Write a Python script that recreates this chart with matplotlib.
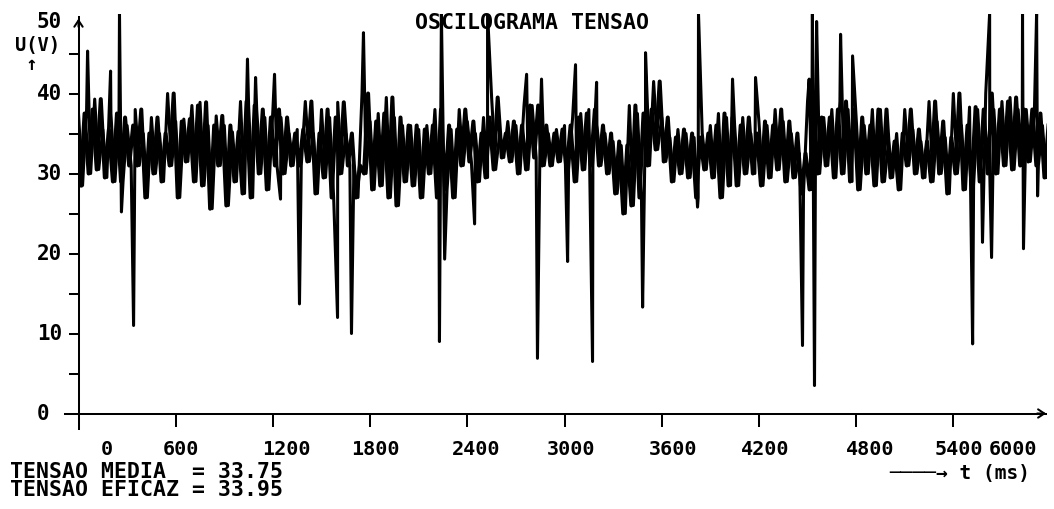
import numpy as np
import matplotlib
matplotlib.use("Agg")
import matplotlib.pyplot as plt
import matplotlib.transforms as mtransforms

# envelope of the trace, read every 50 ms (upper and lower value of the band, V)
t_step = 50
u_high = [
    37.5, 38, 39.3, 35.5, 37.5, 37, 36, 38, 35, 37,
    35, 40, 36.5, 36.8, 38.5, 38.9, 36, 37.2, 36, 35.2,
    39, 38.5, 38, 37, 38, 37, 35, 35.5, 39, 35,
    38, 37, 38.9, 35, 31, 40, 36.5, 37.5, 39.5, 37,
    36, 36, 35.5, 36, 38, 36, 35.5, 38, 36.5, 35,
    37, 39.5, 35, 36.5, 36, 38.5, 38.5, 36, 35, 35.5,
    36, 37, 37.5, 38, 36, 35, 34, 33.5, 38.5, 37.5,
    38, 41.5, 37, 34.5, 35.5, 35, 34.5, 35, 36, 37.5,
    37, 36, 37, 35, 36.5, 36, 38, 36.5, 35, 32.5,
    39, 37, 37, 38, 39, 38, 37, 36, 38, 38,
    34, 35, 38, 35.5, 34, 39, 36.5, 34.5, 40, 36,
    38.3, 38, 40, 38, 39, 39.5, 38, 38, 37.5, 36,
]
u_low = [
    28.5, 30, 30.5, 29.5, 29, 29, 31, 31, 27, 30,
    29, 31, 27, 31.5, 29, 28.5, 25.6, 31, 26, 29,
    27.5, 27, 30, 28, 31, 30, 31, 31, 31.5, 27.5,
    29.5, 27, 30, 31, 27, 30, 28, 28.5, 27, 26,
    29, 28.5, 27, 30, 27, 28, 27, 31, 31.5, 29,
    29.5, 30.5, 32, 31.5, 30, 30.5, 32, 31, 31, 31.5,
    30.5, 29, 30.5, 31, 31, 30, 27.5, 25, 26, 27,
    31, 33, 31.5, 29, 30, 29.5, 27, 30.5, 29.5, 27,
    28.5, 28.5, 30, 30, 28.5, 29.5, 30.5, 29, 29.5, 27.5,
    28, 30, 31, 29.5, 30, 29, 28, 30, 28.5, 29,
    29.5, 28, 31, 30, 29.5, 29, 30, 27.5, 30, 28,
    28.5, 29, 30, 30, 31, 30.5, 31, 31.5, 31, 29.5,
]

# single spikes (time in ms, voltage in V)
spike_t = [56, 198, 253, 265, 340, 1043, 1093, 1210, 1247, 1364,
           1599, 1685, 1759, 2228, 2240, 2260, 2445, 2525, 2766, 2833,
           2858, 3019, 3068, 3173, 3198, 3482, 3500, 3821, 3827, 4037,
           4179, 4469, 4510, 4530, 4543, 4556, 4704, 4778, 5519, 5580,
           5624, 5636, 5827, 5833, 5914, 5920]
spike_u = [45.3, 42.8, 50, 25.2, 11, 44.3, 42, 42.4, 26.8, 13.7,
           12, 10, 47.6, 9, 50, 19.3, 23.7, 50, 42.4, 6.9,
           41.8, 19, 43.6, 6.5, 41.4, 13.3, 45.1, 25.8, 50, 41.8,
           42, 8.5, 41.8, 50, 3.5, 49, 47.4, 44.7, 8.7, 21.4,
           50, 19.5, 50, 20.6, 50, 27.2]

y_ticks = [0, 10, 20, 30, 40, 50]
x_ticks = [600, 1200, 1800, 2400, 3000, 3600, 4200, 4800, 5400]
x_labels = ["0", "600", "1200", "1800", "2400", "3000",
            "3600", "4200", "4800", "5400", "6000"]
title = "OSCILOGRAMA TENSAO"
u_media = 33.75
u_eficaz = 33.95

# label positions of the original screen (ms)
x_label_pos = [176, 633, 1281, 1830, 2454, 3040, 3670, 4238, 4886, 5435, 5769]

# two interleaved zigzags through the band, spikes added to the first one
n = len(u_high)
pts_a = []
pts_b = []
for i in range(n):
    pts_a.append((i * t_step, u_high[i]))
    pts_a.append((i * t_step + t_step / 2, u_low[i]))
    pts_b.append((i * t_step + t_step / 4, u_low[i]))
    pts_b.append((i * t_step + 3 * t_step / 4, u_high[i]))
pts_a += list(zip(spike_t, spike_u))
pts_a.sort()
ta = np.array([p[0] for p in pts_a])
ua = np.array([p[1] for p in pts_a])
tb = np.array([p[0] for p in pts_b])
ub = np.array([p[1] for p in pts_b])

W, H = 1054, 510
fig = plt.figure(figsize=(W / 100, H / 100), dpi=100)
ax = fig.add_axes([78.5 / W, 1 - 414.5 / H, 968.8 / W, 400 / H])
ax.set_xlim(0, 5980)
ax.set_ylim(0, 50)

mono = "DejaVu Sans Mono"
lw = 1.45

ax.plot(tb, ub, color="black", lw=2.9)
ax.plot(ta, ua, color="black", lw=2.2)

for s in ax.spines.values():
    s.set_visible(False)

# axes drawn by hand, with the small overhang at the origin
ax.plot([-85, 5975], [0, 0], color="black", lw=lw, clip_on=False)
ax.plot([0, 0], [-1.95, 49.6], color="black", lw=lw, clip_on=False)
ax.annotate("", xy=(5990, 0), xytext=(5900, 0), annotation_clip=False,
            arrowprops=dict(arrowstyle="->,head_length=0.45,head_width=0.3", lw=lw, color="black"))
ax.annotate("", xy=(0, 49.7), xytext=(0, 48), annotation_clip=False,
            arrowprops=dict(arrowstyle="->,head_length=0.45,head_width=0.3", lw=lw, color="black"))

ax.set_xticks(x_ticks)
ax.set_yticks([10, 20, 30, 40])
ax.set_yticks([5, 15, 25, 35, 45], minor=True)
ax.tick_params(axis="both", which="both", direction="out", width=lw, color="black",
               labelbottom=False, labelleft=False)
ax.tick_params(axis="x", length=9)
ax.tick_params(axis="y", which="both", length=7.5)

ty = mtransforms.blended_transform_factory(fig.transFigure, ax.transData)
for v in y_ticks:
    ax.text(37 / W, min(v, 49.1), str(v), transform=ty, ha="left", va="center",
            family=mono, weight="bold", fontsize=15)

tx = mtransforms.blended_transform_factory(ax.transData, fig.transFigure)
for p, s in zip(x_label_pos, x_labels):
    ax.text(p, 1 - 450 / H, s, transform=tx, ha="center", va="center",
            family=mono, weight="bold", fontsize=14.5)

fig.text(532 / W, 1 - 23 / H, title, ha="center", va="center",
         family=mono, weight="bold", fontsize=15.5)
fig.text(15 / W, 1 - 36 / H, "U(V)\n ↑", ha="left", va="top", multialignment="left",
         family=mono, weight="bold", fontsize=13.5, linespacing=1.0)
fig.text(10 / W, 1 - 462 / H,
         f"TENSAO MEDIA  = {u_media:.2f}\nTENSAO EFICAZ = {u_eficaz:.2f}",
         ha="left", va="top", multialignment="left",
         family=mono, weight="bold", fontsize=15.5, linespacing=0.88)
fig.text(889 / W, 1 - 474 / H, "────→ t (ms)", ha="left", va="center",
         family=mono, weight="bold", fontsize=14)

fig.savefig("out.png", dpi=100)
